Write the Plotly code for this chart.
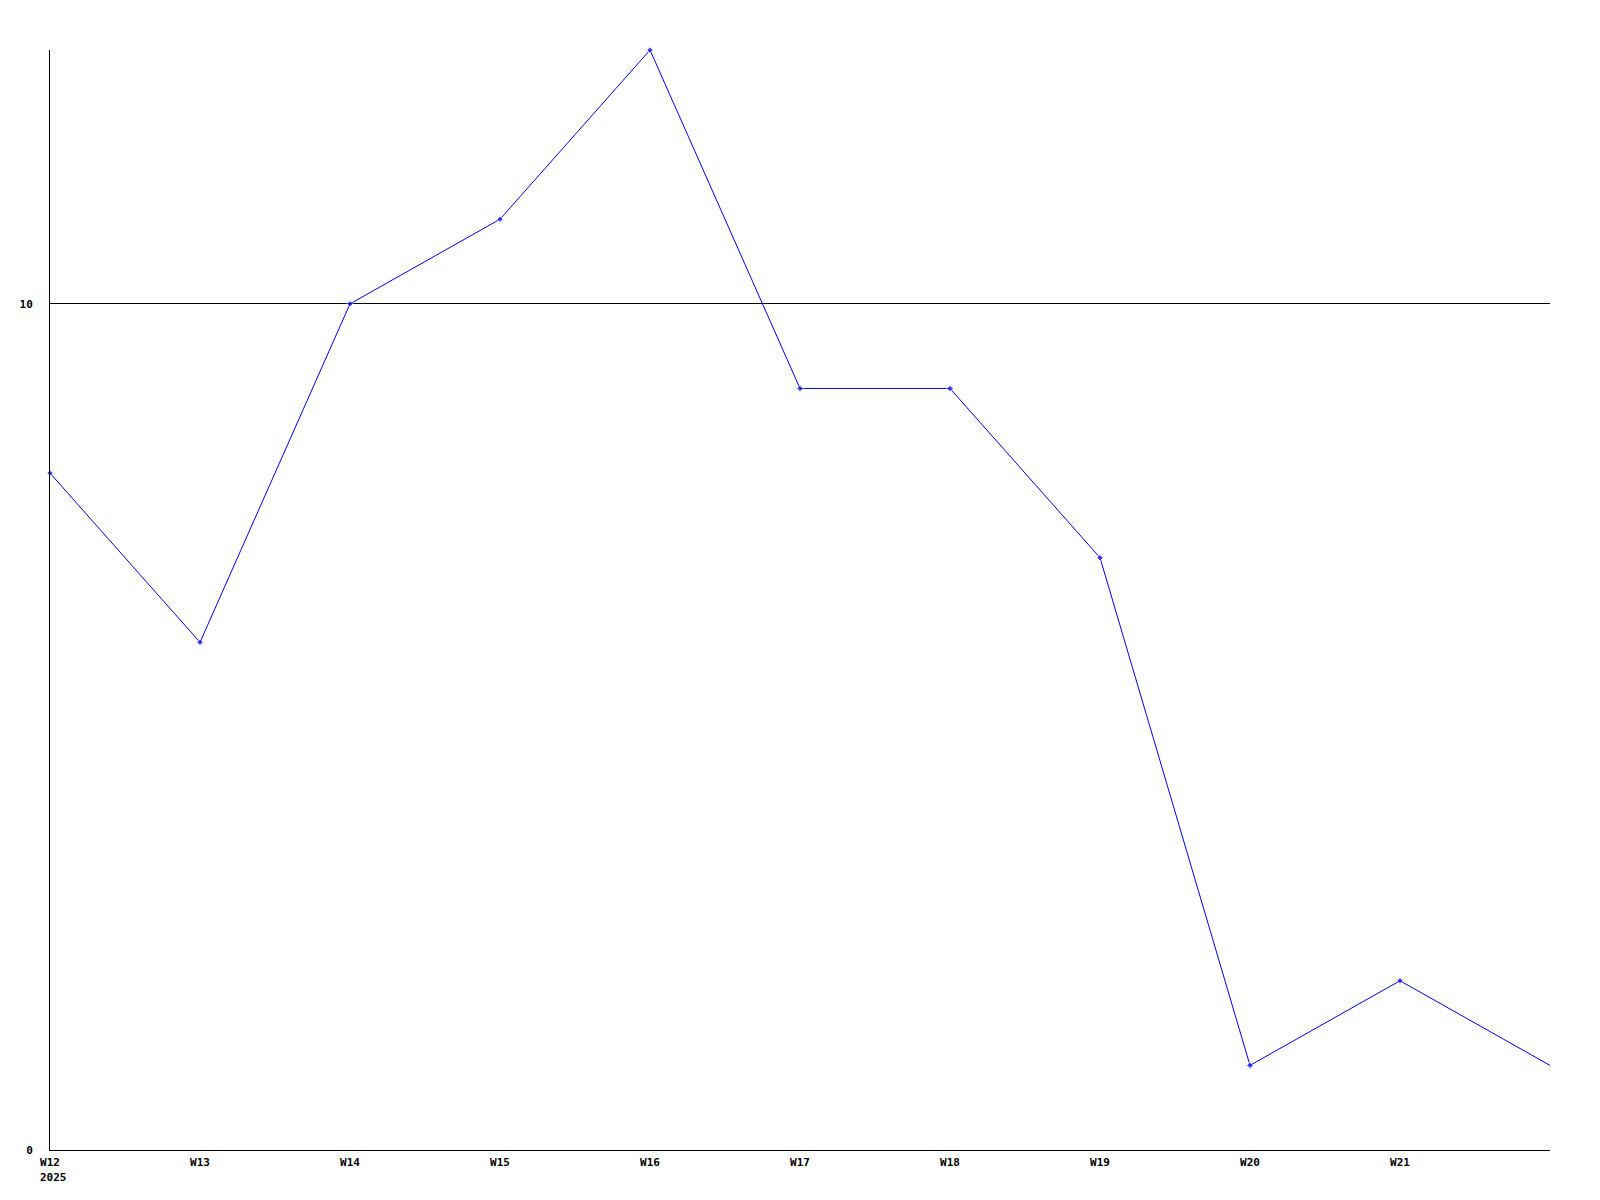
import plotly.graph_objects as go

weeks = ["W12", "W13", "W14", "W15", "W16", "W17", "W18", "W19", "W20", "W21", "W22"]
values = [8, 6, 10, 11, 13, 9, 9, 7, 1, 2, 1]
tick_weeks = weeks[:-1]
year_label = "2025"
y_ticks = [0, 10]

font = dict(family="DejaVu Sans Mono", size=11, color="black", weight="bold")

sizes = [5] * (len(values) - 1) + [0]

fig = go.Figure()
fig.add_trace(go.Scatter(
    x=weeks, y=values, mode="lines+markers",
    line=dict(color="#0000ff", width=1),
    marker=dict(color="#0000ff", size=sizes, symbol="diamond"),
    cliponaxis=False,
))

# page body has an 8px default margin; compensate so the plot area sits at 50..1550 x 50..1150
fig.update_layout(
    width=1584, height=1184,
    margin=dict(l=42, r=42, t=42, b=42, autoexpand=False),
    plot_bgcolor="white", paper_bgcolor="white",
    showlegend=False,
    font=font,
    xaxis=dict(
        type="category", range=[0, len(weeks) - 1],
        tickvals=tick_weeks, ticktext=tick_weeks,
        showgrid=False, showline=True, linecolor="black", linewidth=1,
        ticks="", tickfont=font, zeroline=False, ticklabelstandoff=2,
    ),
    yaxis=dict(
        range=[0, 13], tickvals=y_ticks,
        showgrid=True, gridcolor="black", gridwidth=1,
        showline=True, linecolor="black", linewidth=1,
        ticks="", tickfont=font, zeroline=False, ticklabelstandoff=14,
    ),
)

fig.add_annotation(
    x=weeks[0], y=0, xref="x", yref="paper", text=year_label,
    showarrow=False, xanchor="left", yanchor="top", xshift=-12, yshift=-19,
    font=font,
)

fig.write_html("out.html")
